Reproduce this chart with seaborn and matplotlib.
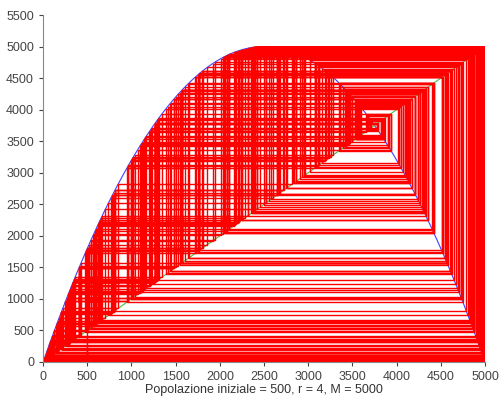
import numpy as np
import pandas as pd
import matplotlib
matplotlib.use("Agg")
import matplotlib.pyplot as plt
import seaborn as sns

# Parametri del modello logistico (dal titolo dell'asse)
p0 = 500
r = 4
M = 5000
n_iter = 400

# Iterazione logistica: p(n+1) = r * p(n) * (1 - p(n)/M)
pop = [p0]
for i in range(n_iter):
    pop.append(r * pop[-1] * (1 - pop[-1] / M))

# Percorso a ragnatela (cobweb)
cx = [p0]
cy = [0]
for i in range(n_iter):
    cx += [pop[i], pop[i + 1]]
    cy += [pop[i + 1], pop[i + 1]]
cobweb = pd.DataFrame({"x": cx, "y": cy})

xs = np.linspace(0, M, 400)
curve = pd.DataFrame({"x": xs, "y": r * xs * (1 - xs / M)})
diag = pd.DataFrame({"x": [0, M], "y": [0, M]})

sns.set_style("white")
plt.rcParams["font.family"] = ["Liberation Sans", "DejaVu Sans"]

fig = plt.figure(figsize=(5.01, 4.0), dpi=100)
ax = fig.add_axes([0.086, 0.095, 0.882, 0.8675])

sns.lineplot(data=curve, x="x", y="y", color="#4040ff", lw=0.8, sort=False, estimator=None, ax=ax)
sns.lineplot(data=diag, x="x", y="y", color="#40c040", lw=0.8, sort=False, estimator=None, ax=ax)
sns.lineplot(data=cobweb, x="x", y="y", color="red", lw=1.0, sort=False, estimator=None, ax=ax)

ax.set_xlim(0, 5000)
ax.set_ylim(0, 5500)
ax.set_xticks(range(0, 5001, 500))
ax.set_yticks(range(0, 5501, 500))
ax.tick_params(labelsize=9, colors="#444444", length=3, direction="out", left=True, bottom=True)
ax.set_xlabel("Popolazione iniziale = 500, r = 4, M = 5000", fontsize=9, color="#333333", labelpad=1)
ax.set_ylabel("")
sns.despine(ax=ax)
for s in ["left", "bottom"]:
    ax.spines[s].set_color("#888888")

fig.savefig("out.png", dpi=100)
